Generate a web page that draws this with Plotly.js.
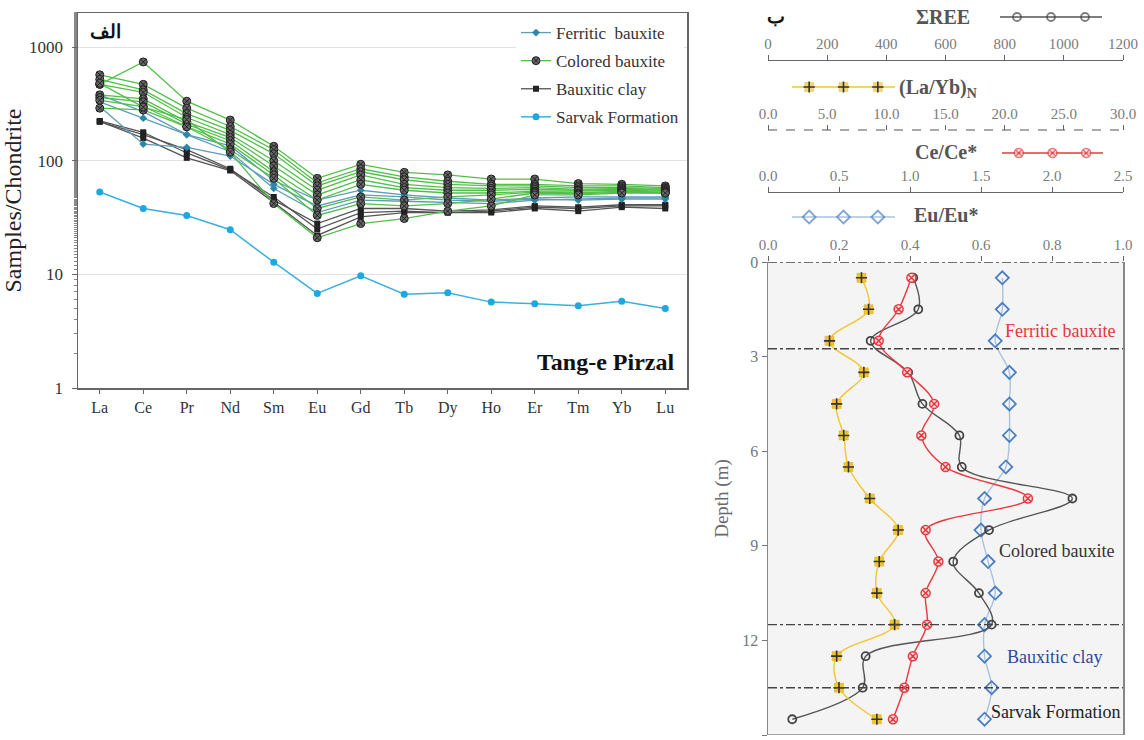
<!DOCTYPE html>
<html>
<head>
<meta charset="utf-8">
<script src="https://cdn.plot.ly/plotly-3.0.1.min.js"></script>
<style>html,body{margin:0;padding:0;background:#fff;}#chart{width:1144px;height:740px;}</style>
</head>
<body>
<div id="chart"></div>
<script>
// ---------------- DATA ----------------
const elements = ["La","Ce","Pr","Nd","Sm","Eu","Gd","Tb","Dy","Ho","Er","Tm","Yb","Lu"];

const ferritic1 = [380,270,170,135,67,45,55,50,47,45,47,48,48,48];
const ferritic2 = [330,237,170,120,57,35,45,44,43,42,45,46,47,47];
const ferritic3 = [300,140,131,110,62,40,50,48,45,44,46,45,46,46];

const colored1 = [470,740,334,228,134,70,93,79,75,69,69,63,62,60];
const colored2 = [570,470,290,200,125,64,85,72,66,62,62,60,60,58];
const colored3 = [520,420,260,185,115,60,80,68,62,60,60,58,58,57];
const colored4 = [470,400,240,170,100,55,75,62,58,57,58,56,57,56];
const colored5 = [380,350,220,160,90,50,68,58,55,55,56,55,56,55];
const colored6 = [360,330,210,150,80,45,62,55,52,52,54,54,55,54];
const colored7 = [340,300,200,140,75,38,48,45,48,50,53,52,54,53];
const colored8 = [290,280,199,125,70,33,42,40,42,46,52,51,53,52];
const colored9 = [480,296,230,119,42,21,28,31,36,40,50,50,52,52];

const clay1 = [224,178,117,83,48,25,35,36,35,36,39,38,40,40];
const clay2 = [222,158,106,82,43,22,32,35,35,35,38,36,39,38];
const clay3 = [220,170,125,85,45,28,38,38,36,37,40,39,41,41];

const sarvak = [53,38,33,24.7,12.8,6.8,9.7,6.7,6.9,5.7,5.5,5.3,5.8,5.0];

const depth  = [0.5,1.5,2.5,3.5,4.5,5.5,6.5,7.5,8.5,9.5,10.5,11.5,12.5,13.5,14.5];
const sumREE = [491,508,347,474,522,647,655,1029,747,626,713,756,330,320,82];
const laYbN  = [7.9,8.5,5.2,8.1,5.8,6.4,6.8,8.6,11.0,9.4,9.2,10.7,5.8,6.0,9.2];
const ceCe   = [1.01,0.92,0.78,0.98,1.17,1.08,1.25,1.83,1.11,1.20,1.11,1.12,1.02,0.96,0.88];
const euEu   = [0.66,0.66,0.64,0.68,0.68,0.68,0.67,0.61,0.60,0.62,0.64,0.61,0.61,0.63,0.61];

const zoneBoundaries = [2.75, 11.5, 13.5];
const zoneLabels = ["Ferritic bauxite","Colored bauxite","Bauxitic clay","Sarvak Formation"];

// ---------------- LAYOUT HELPERS ----------------
const W = 1144, H = 740;
const px = x => x / W;
const py = y => 1 - y / H;
const SERIF = "Liberation Serif, DejaVu Serif, serif";

const traces = [];

const styles = {
  ferritic: {line:{color:"#5f9cb8",width:1.3}, marker:{symbol:"diamond",size:6,color:"#2a87a8"}},
  colored:  {line:{color:"#52bf4a",width:1.3}, marker:{symbol:"circle-x",size:8,color:"#666",line:{color:"#222",width:1}}},
  clay:     {line:{color:"#555555",width:1.3}, marker:{symbol:"square",size:6,color:"#222"}},
  sarvak:   {line:{color:"#3cb0dc",width:1.5}, marker:{symbol:"circle",size:7,color:"#1ea8e0"}}
};
const ranks = {ferritic:1, colored:2, clay:3, sarvak:4};

function addGroup(list, key, name){
  list.forEach((vals,i)=>{
    traces.push({
      type:"scatter", mode:"lines+markers", x:elements, y:vals,
      xaxis:"x", yaxis:"y", name:name, legendgroup:key, legendrank:ranks[key], showlegend:i===0,
      line:styles[key].line, marker:styles[key].marker, hoverinfo:"x+y"
    });
  });
}
addGroup([clay1,clay2,clay3],"clay","Bauxitic clay");
addGroup([ferritic1,ferritic2,ferritic3],"ferritic","Ferritic  bauxite");
addGroup([colored1,colored2,colored3,colored4,colored5,colored6,colored7,colored8,colored9],"colored","Colored bauxite");
addGroup([sarvak],"sarvak","Sarvak Formation");

// right panel profiles
const prof = {
  sum:{line:{color:"#555",width:1.4,shape:"spline"}, marker:{symbol:"circle-open",size:8,color:"#444",line:{width:1.8}}},
  lay:{line:{color:"#f2c530",width:1.4,shape:"spline"}, marker:{symbol:"square",size:9,color:"#f2c530",line:{color:"#d8a800",width:0.5}}},
  layX:{marker:{symbol:"cross-thin-open",size:8,color:"#333",line:{color:"#333",width:1.6}}},
  ce:{line:{color:"#e8383f",width:1.4,shape:"spline"}, marker:{symbol:"circle-x",size:9,color:"#fde3e3",line:{color:"#e8383f",width:1.5}}},
  eu:{line:{color:"#a9c3df",width:1.4,shape:"spline"}, marker:{symbol:"diamond-open",size:10,color:"#4a7fc4",line:{width:1.8}}}
};

traces.push({type:"scatter",mode:"lines+markers",x:sumREE,y:depth,xaxis:"x3",yaxis:"y2",showlegend:false,line:prof.sum.line,marker:prof.sum.marker,name:"ΣREE"});
traces.push({type:"scatter",mode:"lines+markers",x:laYbN,y:depth,xaxis:"x4",yaxis:"y2",showlegend:false,line:prof.lay.line,marker:prof.lay.marker,name:"(La/Yb)N"});
traces.push({type:"scatter",mode:"markers",x:laYbN,y:depth,xaxis:"x4",yaxis:"y2",showlegend:false,marker:prof.layX.marker,hoverinfo:"skip"});
traces.push({type:"scatter",mode:"lines+markers",x:ceCe,y:depth,xaxis:"x5",yaxis:"y2",showlegend:false,line:prof.ce.line,marker:prof.ce.marker,name:"Ce/Ce*"});
traces.push({type:"scatter",mode:"lines+markers",x:euEu,y:depth,xaxis:"x2",yaxis:"y2",showlegend:false,line:prof.eu.line,marker:prof.eu.marker,name:"Eu/Eu*"});

// legend keys of the right panel (pixel overlay axes)
const keyRows = [
  {x0:1000,x1:1102,y:17, s:prof.sum},
  {x0:792, x1:895, y:87, s:prof.lay, extra:prof.layX},
  {x0:1002,x1:1103,y:153,s:prof.ce},
  {x0:792, x1:895, y:217,s:prof.eu}
];
keyRows.forEach(k=>{
  const span = k.x1-k.x0;
  const xs=[k.x0,k.x0+span/6,k.x0+span/2,k.x0+5*span/6,k.x1];
  const ys=xs.map(()=>k.y);
  const mk=Object.assign({},k.s.marker,{size:[0,k.s.marker.size,k.s.marker.size,k.s.marker.size,0]});
  traces.push({type:"scatter",mode:"lines+markers",x:xs,y:ys,xaxis:"x6",yaxis:"y6",showlegend:false,hoverinfo:"skip",
    line:Object.assign({},k.s.line,{shape:"linear"}),marker:mk});
  if(k.extra){
    traces.push({type:"scatter",mode:"markers",x:xs.slice(1,4),y:ys.slice(1,4),xaxis:"x6",yaxis:"y6",showlegend:false,hoverinfo:"skip",marker:k.extra.marker});
  }
});

// ---------------- LAYOUT ----------------
const rightDom = [px(768), px(1123)];
const tickFontR = {family:SERIF,size:15,color:"#7a7a7a"};
function topAxis(range,dtick,fmt,pos,showline){
  return {overlaying:"x2",anchor:"free",position:pos,side:"top",range:range,dtick:dtick,tick0:0,tickformat:fmt,
    showgrid:false,zeroline:false,showline:showline,linecolor:"#666",linewidth:1,ticks:"outside",ticklen:5,
    tickcolor:"#666",tickfont:tickFontR,fixedrange:true};
}

const shapes = [
  {type:"rect",xref:"x2 domain",yref:"y2 domain",x0:0,x1:1,y0:0,y1:1,fillcolor:"#f4f4f4",line:{width:0},layer:"below"},
  {type:"line",xref:"x2 domain",yref:"y2",x0:0,x1:1,y0:0,y1:0,line:{color:"#444",width:1.4,dash:"dashdot"}},
  {type:"line",xref:"x2 domain",yref:"y2",x0:0,x1:1,y0:15,y1:15,line:{color:"#888",width:1.5}},
  {type:"line",xref:"paper",yref:"paper",x0:rightDom[0],x1:rightDom[1],y0:py(130),y1:py(130),line:{color:"#555",width:1.2,dash:"dash"}}
];
zoneBoundaries.forEach(d=>shapes.push({type:"line",xref:"x2 domain",yref:"y2",x0:0,x1:1,y0:d,y1:d,line:{color:"#444",width:1.4,dash:"dashdot"}}));

const ann = (text,x,y,size,color,bold,xanchor)=>({text:bold?"<b>"+text+"</b>":text,x:px(x),y:py(y),xref:"paper",yref:"paper",
  showarrow:false,xanchor:xanchor||"center",yanchor:"middle",font:{family:SERIF,size:size,color:color}});

const annotations = [
  ann("الف",105,31,19,"#111",true),
  ann("Tang-e Pirzal",605,362,24,"#111",true),
  ann("ب",776,17,19,"#111",true),
  ann("ΣREE",943,17,20,"#555",true),
  ann("(La/Yb)<sub>N</sub>",897,88,20,"#555",true,"left"),
  ann("Ce/Ce*",946,152,20,"#555",true),
  ann("Eu/Eu*",946,215,20,"#555",true),
  ann(zoneLabels[0],1060,331,18,"#e0393e",false),
  ann(zoneLabels[1],1056,551,18,"#333",false),
  ann(zoneLabels[2],1054,657,18,"#2e4a9a",false),
  ann(zoneLabels[3],1055,712,18,"#222",false)
];

const layout = {
  width:W,height:H,margin:{l:0,r:0,t:0,b:0,pad:0},
  paper_bgcolor:"#fff",plot_bgcolor:"rgba(0,0,0,0)",
  font:{family:SERIF,color:"#333"},
  showlegend:true,
  legend:{x:px(684),xanchor:"right",y:py(15),yanchor:"top",bgcolor:"#fff",borderwidth:0,
    font:{family:SERIF,size:17,color:"#333"},traceorder:"grouped",tracegroupgap:3,itemwidth:30},
  xaxis:{domain:[px(78),px(687)],anchor:"y",type:"category",range:[-0.5,13.5],showgrid:false,
    showline:true,mirror:true,linecolor:"#666",linewidth:1.5,ticks:"outside",ticklen:4,tickcolor:"#666",
    tickfont:{family:SERIF,size:16,color:"#333"},fixedrange:true},
  yaxis:{domain:[py(388),py(13)],anchor:"x",type:"log",range:[0,3.3],tickvals:[1,10,100,1000],ticktext:["1","10","100","1000"],
    showgrid:true,gridcolor:"#e2e2e2",gridwidth:1,showline:true,mirror:true,linecolor:"#666",linewidth:1.5,
    ticks:"outside",ticklen:5,tickcolor:"#666",ticklabelstandoff:5,minor:{ticks:"outside",ticklen:3,tickcolor:"#888",showgrid:false},
    tickfont:{family:SERIF,size:17,color:"#333"},
    title:{text:"Samples/Chondrite",font:{family:SERIF,size:24,color:"#222"},standoff:0},fixedrange:true},
  xaxis2:{domain:rightDom,anchor:"y2",side:"top",range:[0,1],dtick:0.2,tick0:0,tickformat:".1f",showgrid:false,zeroline:false,
    showline:false,ticks:"outside",ticklen:5,tickcolor:"#666",tickfont:tickFontR,fixedrange:true},
  xaxis3:topAxis([0,1200],200,"d",py(60),true),
  xaxis4:topAxis([0,30],5,".1f",py(130),false),
  xaxis5:topAxis([0,2.5],0.5,".1f",py(192),true),
  yaxis2:{domain:[py(735),py(262)],anchor:"x2",range:[15,0],dtick:3,tick0:0,showgrid:false,zeroline:false,
    showline:true,mirror:true,linecolor:"#888",linewidth:1.5,ticks:"outside",ticklen:5,tickcolor:"#777",
    tickfont:{family:SERIF,size:16,color:"#777"},
    title:{text:"Depth (m)",font:{family:SERIF,size:19,color:"#6a6a6a"},standoff:8},fixedrange:true},
  xaxis6:{domain:[0,1],anchor:"y6",range:[0,W],visible:false,fixedrange:true},
  yaxis6:{domain:[0,1],anchor:"x6",range:[H,0],visible:false,fixedrange:true},
  shapes:shapes,
  annotations:annotations
};

Plotly.newPlot("chart",traces,layout,{displayModeBar:false,staticPlot:true});
</script>
</body>
</html>
